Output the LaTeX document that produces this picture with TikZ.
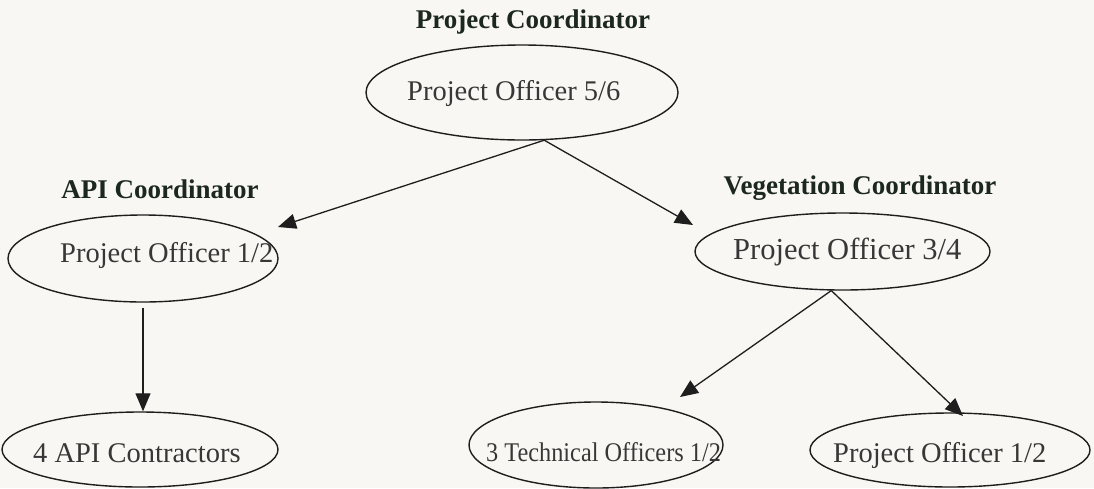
\documentclass[tikz,border=0pt]{standalone}
\usepackage{fontspec}
\setmainfont{Liberation Serif}
\usetikzlibrary{arrows.meta,shapes.geometric}
\definecolor{bg}{RGB}{248,247,243}
\definecolor{headtxt}{RGB}{28,40,30}
\definecolor{bodytxt}{RGB}{55,55,55}
\definecolor{linec}{RGB}{30,30,30}
\tikzset{
  oval/.style={ellipse, draw=linec, line width=1.4pt, inner sep=0pt},
  head/.style={anchor=base, text=headtxt, font=\fontsize{27}{32}\selectfont\bfseries, inner sep=0pt},
  body/.style={anchor=base west, text=bodytxt, font=\fontsize{28.5}{34}\selectfont, inner sep=0pt},
  conn/.style={draw=linec, line width=1.3pt, -{Triangle[length=18pt,width=15pt]}}
}
\begin{document}
\begin{tikzpicture}[x=1pt,y=-1pt]
\fill[bg] (0,0) rectangle (1094,488);
\useasboundingbox (0,0) rectangle (1094,488);
% ellipses
\node[oval, minimum width=312pt, minimum height=95pt] (top) at (522,92.5) {};
\node[oval, minimum width=270pt, minimum height=87pt] (api) at (143,258.5) {};
\node[oval, minimum width=295pt, minimum height=77pt] (veg) at (842.5,251.5) {};
\node[oval, minimum width=276pt, minimum height=75pt] (con) at (140,449.5) {};
\node[oval, minimum width=254pt, minimum height=86pt] (tech) at (596,445) {};
\node[oval, minimum width=280pt, minimum height=74pt] (po) at (950,450) {};
% headings
\node[head] (hpc) at (533,28) {Project Coordinator};
\node[head] (hapi) at (160,198) {API Coordinator};
\node[head] (hveg) at (860,194) {Vegetation Coordinator};
% texts
\node[body] (ttop) at (407,100) {Project Officer 5/6};
\node[body] (tapi) at (60,262) {Project Officer 1/2};
\node[body, font=\fontsize{30.5}{36}\selectfont] (tveg) at (733,259) {Project Officer 3/4};
\node[body] (tcon) at (33,462) {4 API Contractors};
\node[body, font=\fontsize{27}{32}\selectfont] (ttech) at (486,461) {\scalebox{0.9}[1]{3 Technical Officers 1/2}};
\node[body] (tpo) at (833,462) {Project Officer 1/2};
% arrow ends
\coordinate (e1) at (278,227);
\coordinate (e2) at (693,225);
\coordinate (e3) at (680,397);
\coordinate (e4) at (963,416);
% connectors
\draw[conn] (top.-65) -- (e1);
\draw[conn] (top.-65) -- (e2);
\draw[conn, shorten <=5pt] (api.south) -- (api.south |- con.north);
\draw[conn] (veg.-106) -- (e3);
\draw[conn] (veg.-106) -- (e4);
\end{tikzpicture}
\end{document}
